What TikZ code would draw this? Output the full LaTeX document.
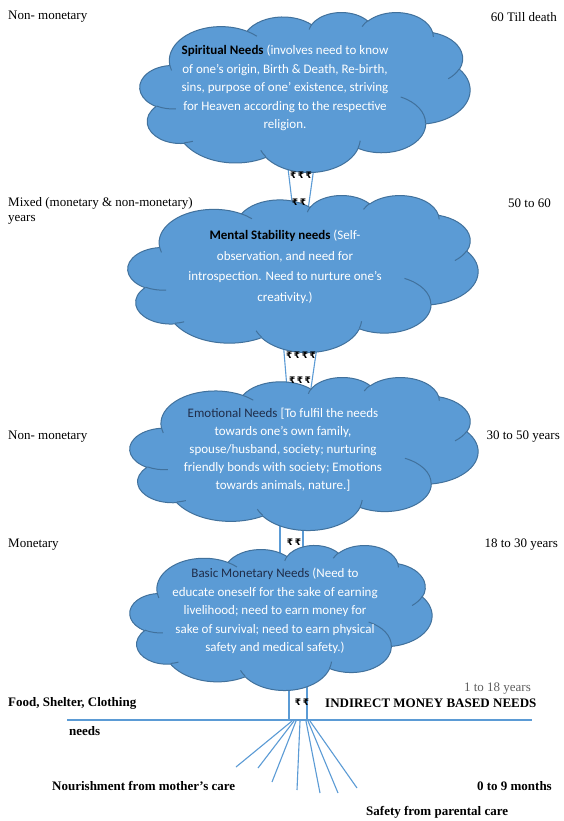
\documentclass[tikz,border=0pt]{standalone}
\usepackage{fontspec}
\setmainfont{Liberation Serif}
\newfontfamily\cloudfont{Carlito}
\newfontfamily\rupeefont{DejaVu Sans}
\definecolor{cloudblue}{HTML}{5B9BD5}
\definecolor{cloudedge}{HTML}{41719C}
\definecolor{linkblue}{HTML}{5B9BD5}
\definecolor{headdark}{HTML}{1F2D4A}
\definecolor{greytext}{HTML}{606060}
% Office-style cloud: #1 name, #2 left, #3 top, #4 width, #5 height
\newcommand\officecloud[5]{%
  \pgfmathsetmacro\cldsx{#4/432}%
  \pgfmathsetmacro\cldsy{#5/432}%
  \begin{scope}[shift={(#2,#3)}, x=\cldsx pt, y=-\cldsy pt]
    \coordinate (#1) at (216,216);
    \filldraw[cloudshape] (39,143.7)
      arc[start angle=-187.74, delta angle=128.11, x radius=67.53, y radius=91.90]
      arc[start angle=-152.03, delta angle=106.58, x radius=53.33, y radius=72.67]
      arc[start angle=-153.49, delta angle=116.17, x radius=43.65, y radius=59.45]
      arc[start angle=-139.71, delta angle=129.50, x radius=48.57, y radius=65.95]
      arc[start angle=-74.77,  delta angle=97.98,  x radius=53.33, y radius=72.73]
      arc[start angle=-37.52,  delta angle=119.38, x radius=67.75, y radius=92.20]
      arc[start angle=0.46,    delta angle=121.52, x radius=57.85, y radius=78.67]
      arc[start angle=16.84,   delta angle=129.40, x radius=67.52, y radius=92.15]
      arc[start angle=58.98,   delta angle=91.22,  x radius=77.20, y radius=105.43]
      arc[start angle=83.28,   delta angle=139.71, x radius=43.60, y radius=59.45]
      arc[start angle=120.36,  delta angle=143.75, x radius=43.45, y radius=59.45]
      -- cycle;
    \draw[cloudhook]
      (46.93,261.77) arc[start angle=85.55, delta angle=34.81, x radius=43.45, y radius=59.45]
      (69.28,348.99) arc[start angle=68.15, delta angle=15.13, x radius=43.60, y radius=59.45]
      (164.78,390.90) arc[start angle=146.24, delta angle=12.23, x radius=67.52, y radius=92.15]
      (288.27,347.51) arc[start angle=4.74, delta angle=12.10, x radius=67.52, y radius=92.15]
      (341.29,229.54) arc[start angle=-64.03, delta angle=64.49, x radius=57.85, y radius=78.67]
      (417.98,153.54) arc[start angle=23.21, delta angle=26.44, x radius=53.33, y radius=72.73]
      (383.24,54.26) arc[start angle=-10.21, delta angle=11.03, x radius=48.57, y radius=65.95]
      (290.78,39.52) arc[start angle=-156.29, delta angle=16.58, x radius=48.57, y radius=65.95]
      (221.41,47.20) arc[start angle=-167.73, delta angle=14.24, x radius=43.65, y radius=59.45]
      (140.00,51.92) arc[start angle=-59.63, delta angle=13.89, x radius=67.53, y radius=91.90]
      (41.27,157.89) arc[start angle=163.19, delta angle=9.07, x radius=67.53, y radius=91.90];
  \end{scope}}
\begin{document}
\begin{tikzpicture}[x=1pt,y=-1pt,
  cloudshape/.style={fill=cloudblue, draw=cloudedge, line width=1pt, line join=round},
  cloudhook/.style={draw=cloudedge, line width=1pt},
  cloudtext/.style={font=\cloudfont\fontsize{13}{18.5}\selectfont, text=white, align=center, inner sep=0pt},
  sidelabel/.style={font=\fontsize{13}{16}\selectfont, inner sep=0pt},
  boldlabel/.style={font=\bfseries\fontsize{13}{16}\selectfont, inner sep=0pt},
  connline/.style={draw=linkblue, line width=1.1pt},
  rupee/.style={font=\rupeefont\bfseries\fontsize{9}{9}\selectfont, inner sep=0pt}]
\useasboundingbox (0,0) rectangle (564,821);
\fill[white] (0,0) rectangle (564,821);

% connector end points
\coordinate (a1) at (287,160); \coordinate (a2) at (293,210);
\coordinate (b1) at (315,160); \coordinate (b2) at (308,210);
\coordinate (c1) at (283,340); \coordinate (c2) at (287,388);
\coordinate (d1) at (318,340); \coordinate (d2) at (311,388);
\coordinate (e1) at (280,520); \coordinate (e2) at (280,555);
\coordinate (f1) at (303,520); \coordinate (f2) at (303,555);
\coordinate (g1) at (289,680); \coordinate (g2) at (289,720);
\coordinate (h1) at (307,680); \coordinate (h2) at (307,720);
\coordinate (lineL) at (67,720); \coordinate (lineR) at (532,720);

\draw[connline] (a1) -- (a2); \draw[connline] (b1) -- (b2);
\draw[connline] (c1) -- (c2); \draw[connline] (d1) -- (d2);
\draw[connline] (e1) -- (e2); \draw[connline] (f1) -- (f2);
\draw[connline] (g1) -- (g2); \draw[connline] (h1) -- (h2);
\draw[connline] (lineL) -- (lineR);

% fan lines
\coordinate (s1) at (292,721); \coordinate (t1) at (236,767);
\coordinate (s2) at (294,721); \coordinate (t2) at (258,768);
\coordinate (s3) at (296,721); \coordinate (t3) at (272,782);
\coordinate (s4) at (300,721); \coordinate (t4) at (297,790);
\coordinate (s5) at (306,721); \coordinate (t5) at (320,793);
\coordinate (s6) at (308,721); \coordinate (t6) at (338,793);
\coordinate (s7) at (310,721); \coordinate (t7) at (357,788);
\foreach \i in {1,...,7} {\draw[connline] (s\i) -- (t\i);}

% clouds
\officecloud{spirit}{140}{12}{330}{160}
\officecloud{mental}{128}{195}{350}{157}
\officecloud{emotion}{130}{377}{348}{153}
\officecloud{basic}{130}{545}{302}{145}

% cloud texts
\node[cloudtext] (spirittext) at (285,88) {{\color{black}\bfseries Spiritual Needs} (involves need to know\\
of one’s origin, Birth \& Death, Re-birth,\\
sins, purpose of one’ existence, striving\\
for Heaven according to the respective\\
religion.};
\node[cloudtext, font=\cloudfont\fontsize{13}{20.5}\selectfont] (mentaltext) at (285,267) {{\color{black}\bfseries Mental Stability needs} (Self-\\
observation, and need for\\
introspection. Need to nurture one’s\\
creativity.)};
\node[cloudtext, font=\cloudfont\fontsize{13}{18}\selectfont] (emotiontext) at (283,450) {{\color{headdark}Emotional Needs} [To fulfil the needs\\
towards one’s own family,\\
spouse/husband, society; nurturing\\
friendly bonds with society; Emotions\\
towards animals, nature.]};
\node[cloudtext] (basictext) at (275,611) {{\color{headdark}Basic Monetary Needs} (Need to\\
educate oneself for the sake of earning\\
livelihood; need to earn money for\\
sake of survival; need to earn physical\\
safety and medical safety.)};

% rupee marks
\node[rupee] (r1) at (301,175) {₹\,₹\,₹};
\node[rupee] (r2) at (299,202) {₹\,₹};
\node[rupee] (r3) at (301,355) {₹\,₹\,₹\,₹};
\node[rupee] (r4) at (300,380) {₹\,₹\,₹};
\node[rupee] (r5) at (294,542) {₹\,₹};
\node[rupee] (r6) at (302,702) {₹\,₹};

% side labels
\node[sidelabel, anchor=west] (l1) at (8,17) {Non- monetary};
\node[sidelabel, anchor=east] (rt1) at (557,17) {60 Till death};
\node[sidelabel, anchor=west] (l2) at (8,203) {Mixed (monetary \& non-monetary)};
\node[sidelabel, anchor=west] (l2b) at (8,220) {years};
\node[sidelabel, anchor=east] (rt2) at (551,203) {50 to 60};
\node[sidelabel, anchor=west] (l3) at (8,437) {Non- monetary};
\node[sidelabel, anchor=east] (rt3) at (560,437) {30 to 50 years};
\node[sidelabel, anchor=west] (l4) at (8,545) {Monetary};
\node[sidelabel, anchor=east] (rt4) at (558,545) {18 to 30 years};
\node[sidelabel, anchor=east, text=greytext] (rt5) at (531,689) {1 to 18 years};
\node[boldlabel, anchor=west] (l5) at (8,703) {Food, Shelter, Clothing};
\node[boldlabel, anchor=west] (l5b) at (69,731) {needs};
\node[boldlabel, anchor=west] (indirect) at (325,703) {INDIRECT MONEY BASED NEEDS};
\node[boldlabel, anchor=west] (nourish) at (52,786) {Nourishment from mother’s care};
\node[boldlabel, anchor=east] (rt6) at (552,786) {0 to 9 months};
\node[boldlabel, anchor=west] (safety) at (366,812) {Safety from parental care};
\end{tikzpicture}
\end{document}
